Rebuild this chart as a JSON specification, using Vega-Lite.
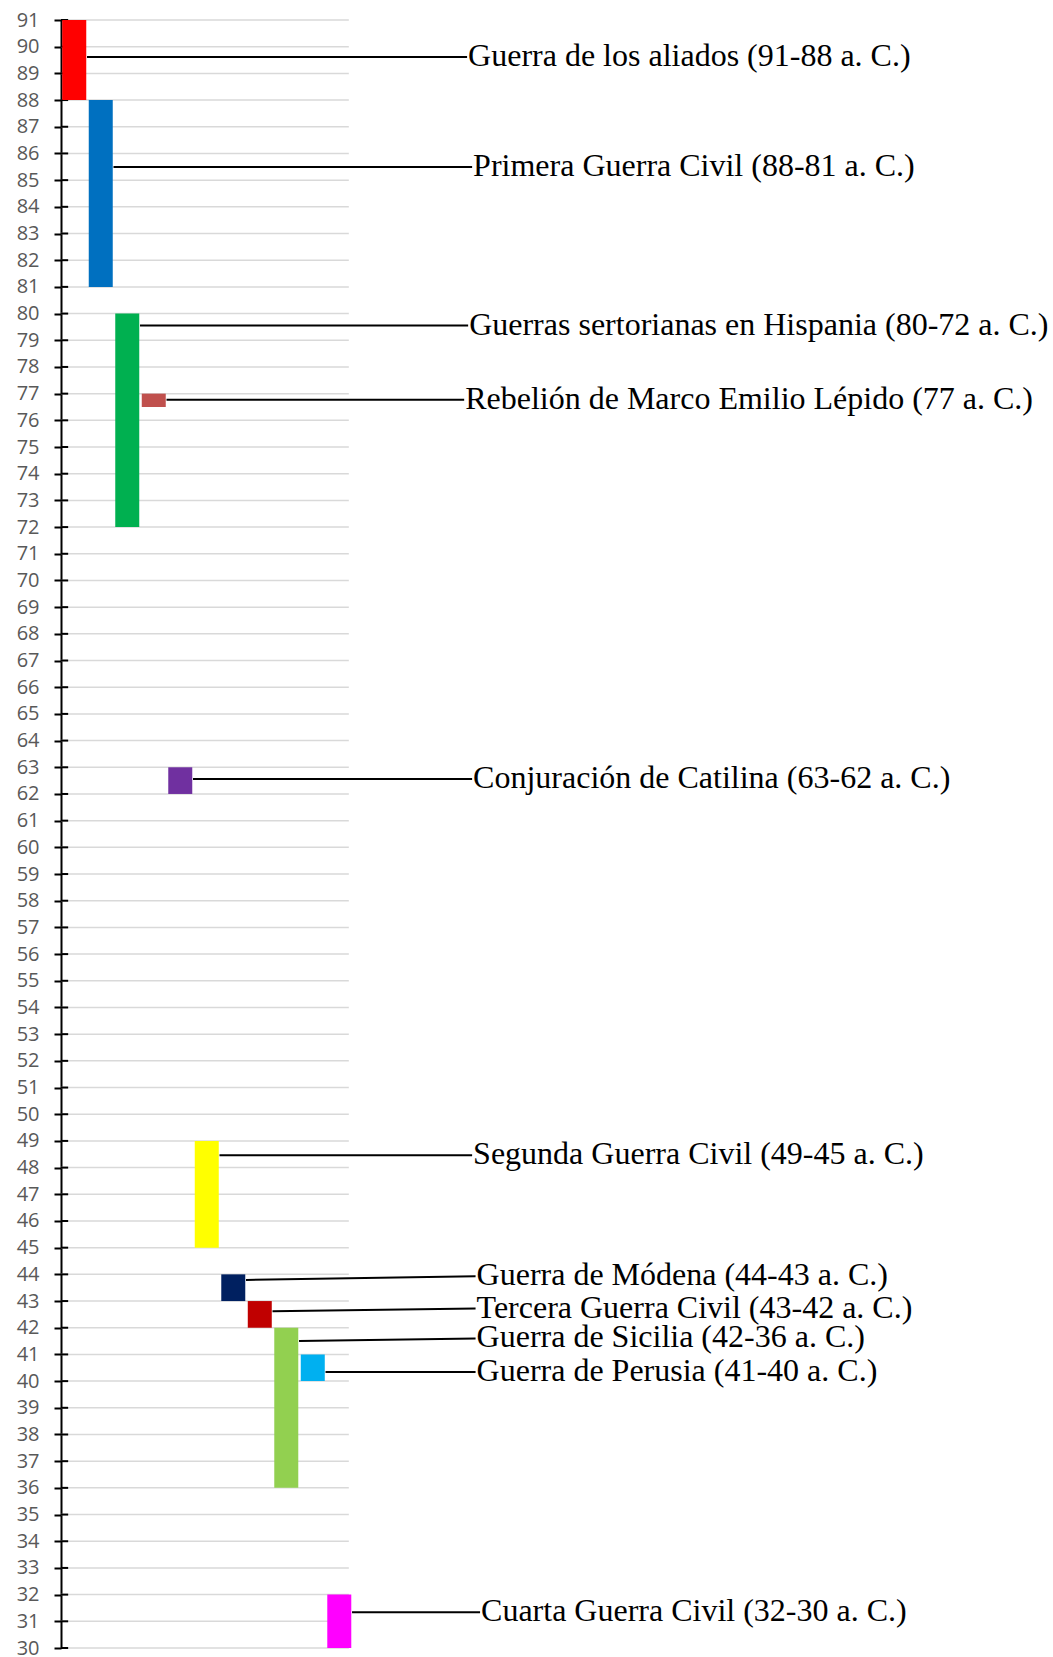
{
  "$schema": "https://vega.github.io/schema/vega-lite/v6.json",
  "autosize": {"type": "none"},
  "padding": {"left": 61, "top": 20, "right": 0, "bottom": 9},
  "width": 992,
  "height": 1628,
  "background": "white",
  "config": {
    "view": {"stroke": null},
    "axisY": {
      "title": null,
      "grid": false,
      "tickCount": 62,
      "domainColor": "black", "domainWidth": 2,
      "tickColor": "black", "tickWidth": 2, "tickSize": 7,
      "labelFont": "Open Sans", "labelFontSize": 20, "labelColor": "#595959",
      "labelPadding": 15, "labelOverlap": false, "labelFlush": false, "labelBound": false
    }
  },
  "datasets": {
    "wars": [
      {"name": "Guerra de los aliados (91-88 a. C.)", "col": 0, "start": 91, "end": 88, "lineFrom": 89.61, "lineTo": 89.61, "labelX": 15.36},
      {"name": "Primera Guerra Civil (88-81 a. C.)", "col": 1, "start": 88, "end": 81, "lineFrom": 85.49, "lineTo": 85.49, "labelX": 15.55},
      {"name": "Guerras sertorianas en Hispania (80-72 a. C.)", "col": 2, "start": 80, "end": 72, "lineFrom": 79.55, "lineTo": 79.55, "labelX": 15.4},
      {"name": "Rebelión de Marco Emilio Lépido (77 a. C.)", "col": 3, "start": 77, "end": 76.5, "lineFrom": 76.77, "lineTo": 76.77, "labelX": 15.25},
      {"name": "Conjuración de Catilina (63-62 a. C.)", "col": 4, "start": 63, "end": 62, "lineFrom": 62.56, "lineTo": 62.56, "labelX": 15.55},
      {"name": "Segunda Guerra Civil (49-45 a. C.)", "col": 5, "start": 49, "end": 45, "lineFrom": 48.46, "lineTo": 48.46, "labelX": 15.55},
      {"name": "Guerra de Módena (44-43 a. C.)", "col": 6, "start": 44, "end": 43, "lineFrom": 43.79, "lineTo": 43.93, "labelX": 15.68},
      {"name": "Tercera Guerra Civil (43-42 a. C.)", "col": 7, "start": 43, "end": 42, "lineFrom": 42.62, "lineTo": 42.72, "labelX": 15.68},
      {"name": "Guerra de Sicilia (42-36 a. C.)", "col": 8, "start": 42, "end": 36, "lineFrom": 41.5, "lineTo": 41.6, "labelX": 15.68},
      {"name": "Guerra de Perusia (41-40 a. C.)", "col": 9, "start": 41, "end": 40, "lineFrom": 40.34, "lineTo": 40.34, "labelX": 15.68},
      {"name": "Cuarta Guerra Civil (32-30 a. C.)", "col": 10, "start": 32, "end": 30, "lineFrom": 31.34, "lineTo": 31.34, "labelX": 15.85}
    ],
    "years": [
      {"year": 30}, {"year": 31}, {"year": 32}, {"year": 33}, {"year": 34}, {"year": 35}, {"year": 36}, {"year": 37}, {"year": 38}, {"year": 39},
      {"year": 40}, {"year": 41}, {"year": 42}, {"year": 43}, {"year": 44}, {"year": 45}, {"year": 46}, {"year": 47}, {"year": 48}, {"year": 49},
      {"year": 50}, {"year": 51}, {"year": 52}, {"year": 53}, {"year": 54}, {"year": 55}, {"year": 56}, {"year": 57}, {"year": 58}, {"year": 59},
      {"year": 60}, {"year": 61}, {"year": 62}, {"year": 63}, {"year": 64}, {"year": 65}, {"year": 66}, {"year": 67}, {"year": 68}, {"year": 69},
      {"year": 70}, {"year": 71}, {"year": 72}, {"year": 73}, {"year": 74}, {"year": 75}, {"year": 76}, {"year": 77}, {"year": 78}, {"year": 79},
      {"year": 80}, {"year": 81}, {"year": 82}, {"year": 83}, {"year": 84}, {"year": 85}, {"year": 86}, {"year": 87}, {"year": 88}, {"year": 89},
      {"year": 90}, {"year": 91}
    ]
  },
  "layer": [
    {
      "data": {"name": "years"},
      "mark": {"type": "rule", "color": "#D9D9D9", "strokeWidth": 1.5},
      "encoding": {
        "y": {
          "field": "year", "type": "quantitative",
          "scale": {"domain": [30, 91], "nice": false, "zero": false},
          "axis": {"title": null, "tickCount": 62, "labelOverlap": false}
        },
        "x": {"datum": 0, "type": "quantitative", "scale": {"domain": [0, 37.43], "nice": false, "zero": false, "padding": 0}, "axis": null},
        "x2": {"datum": 10.86}
      }
    },
    {
      "data": {"name": "years"},
      "mark": {"type": "rule", "color": "black", "strokeWidth": 2},
      "encoding": {
        "y": {"field": "year", "type": "quantitative", "axis": {"title": null, "tickCount": 62, "labelOverlap": false}},
        "x": {"datum": 0, "type": "quantitative"},
        "x2": {"datum": 0.27}
      }
    },
    {
      "data": {"name": "wars"},
      "mark": {"type": "bar", "width": 24, "xOffset": 13.25},
      "encoding": {
        "x": {"field": "col", "type": "quantitative"},
        "y": {"field": "start", "type": "quantitative", "axis": {"title": null, "tickCount": 62, "labelOverlap": false}},
        "y2": {"field": "end"},
        "color": {
          "field": "name", "type": "nominal", "legend": null,
          "scale": {
            "domain": [
              "Guerra de los aliados (91-88 a. C.)",
              "Primera Guerra Civil (88-81 a. C.)",
              "Guerras sertorianas en Hispania (80-72 a. C.)",
              "Rebelión de Marco Emilio Lépido (77 a. C.)",
              "Conjuración de Catilina (63-62 a. C.)",
              "Segunda Guerra Civil (49-45 a. C.)",
              "Guerra de Módena (44-43 a. C.)",
              "Tercera Guerra Civil (43-42 a. C.)",
              "Guerra de Sicilia (42-36 a. C.)",
              "Guerra de Perusia (41-40 a. C.)",
              "Cuarta Guerra Civil (32-30 a. C.)"
            ],
            "range": ["#FF0000", "#0070C0", "#00B050", "#C0504D", "#7030A0", "#FFFF00", "#002060", "#C00000", "#92D050", "#00B0F0", "#FF00FF"]
          }
        }
      }
    },
    {
      "data": {"name": "wars"},
      "mark": {"type": "rule", "color": "black", "strokeWidth": 2, "xOffset": 26, "x2Offset": -1},
      "encoding": {
        "x": {"field": "col", "type": "quantitative"},
        "x2": {"field": "labelX"},
        "y": {"field": "lineFrom", "type": "quantitative", "axis": {"title": null, "tickCount": 62, "labelOverlap": false}},
        "y2": {"field": "lineTo"}
      }
    },
    {
      "data": {"name": "wars"},
      "mark": {"type": "text", "align": "left", "baseline": "alphabetic", "dy": 9, "font": "Liberation Serif", "fontSize": 32, "color": "black"},
      "encoding": {
        "x": {"field": "labelX", "type": "quantitative"},
        "y": {"field": "lineTo", "type": "quantitative", "axis": {"title": null, "tickCount": 62, "labelOverlap": false}},
        "text": {"field": "name"}
      }
    }
  ]
}
